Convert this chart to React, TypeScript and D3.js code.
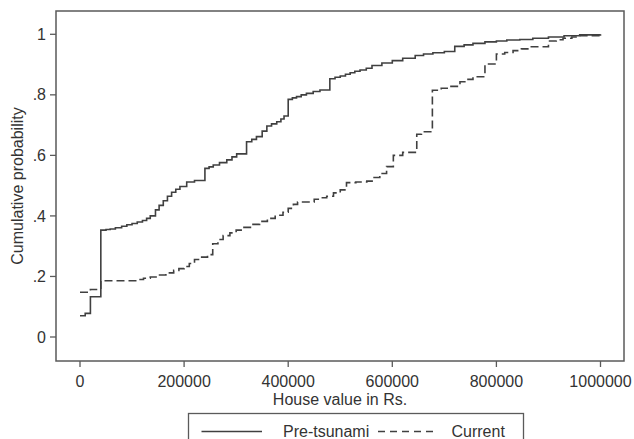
import React from "react";
import * as d3 from "d3";

const preX = [0, 10000, 20000, 40000, 50000, 58000, 68000, 80000, 90000, 100000, 110000, 120000, 128000, 135000, 145000, 152000, 160000, 168000, 176000, 184000, 192000, 205000, 220000, 240000, 248000, 256000, 268000, 282000, 292000, 301000, 320000, 330000, 339000, 350000, 359000, 368000, 378000, 386000, 392000, 400000, 408000, 416000, 425000, 435000, 448000, 461000, 480000, 490000, 500000, 510000, 519000, 528000, 538000, 550000, 561000, 580000, 600000, 620000, 644000, 660000, 678000, 700000, 720000, 738000, 755000, 778000, 800000, 820000, 845000, 870000, 900000, 930000, 960000, 1000000];
const preY = [0.070, 0.078, 0.133, 0.353, 0.355, 0.357, 0.361, 0.366, 0.371, 0.375, 0.380, 0.385, 0.392, 0.400, 0.420, 0.435, 0.450, 0.465, 0.478, 0.488, 0.497, 0.512, 0.517, 0.557, 0.562, 0.568, 0.576, 0.585, 0.595, 0.605, 0.645, 0.653, 0.662, 0.680, 0.697, 0.704, 0.711, 0.720, 0.730, 0.785, 0.790, 0.794, 0.800, 0.805, 0.811, 0.816, 0.853, 0.858, 0.862, 0.868, 0.873, 0.878, 0.882, 0.888, 0.897, 0.905, 0.913, 0.921, 0.930, 0.935, 0.939, 0.943, 0.960, 0.965, 0.970, 0.975, 0.978, 0.981, 0.983, 0.987, 0.991, 0.995, 0.998, 1.0];

const curX = [0, 20000, 40000, 110000, 122000, 135000, 150000, 165000, 180000, 190000, 200000, 210000, 220000, 232000, 245000, 255000, 265000, 275000, 288000, 300000, 315000, 330000, 345000, 360000, 375000, 390000, 400000, 410000, 418000, 450000, 462000, 474000, 487000, 500000, 512000, 530000, 551000, 565000, 576000, 589000, 602000, 620000, 647000, 656000, 677000, 694000, 711000, 730000, 742000, 755000, 778000, 800000, 816000, 832000, 848000, 864000, 900000, 915000, 928000, 945000, 960000, 1000000];
const curY = [0.148, 0.157, 0.186, 0.190, 0.194, 0.198, 0.205, 0.212, 0.220, 0.226, 0.233, 0.243, 0.256, 0.264, 0.272, 0.308, 0.322, 0.335, 0.344, 0.353, 0.362, 0.372, 0.382, 0.392, 0.402, 0.412, 0.425, 0.438, 0.446, 0.455, 0.460, 0.465, 0.476, 0.486, 0.510, 0.512, 0.515, 0.527, 0.540, 0.563, 0.600, 0.610, 0.670, 0.678, 0.815, 0.822, 0.828, 0.843, 0.851, 0.860, 0.902, 0.935, 0.940, 0.946, 0.952, 0.959, 0.978, 0.982, 0.987, 0.991, 0.995, 1.0];

const xTicks = [0, 200000, 400000, 600000, 800000, 1000000];
const yTicks = [0, 0.2, 0.4, 0.6, 0.8, 1];
const yTickLabels = ["0", ".2", ".4", ".6", ".8", "1"];
const seriesNames = ["Pre-tsunami", "Current"];

const W = 634;
const H = 439;
const plot = { left: 56, top: 11, right: 624, bottom: 361 };

export default function App() {
  const x = d3.scaleLinear().domain([0, 1000000]).range([80, 600.5]);
  const y = d3.scaleLinear().domain([0, 1]).range([337, 34.3]);
  const line = d3
    .line<[number, number]>()
    .x((d) => x(d[0]))
    .y((d) => y(d[1]))
    .curve(d3.curveStepAfter);
  const preData: [number, number][] = preX.map((v, i) => [v, preY[i]]);
  const curData: [number, number][] = curX.map((v, i) => [v, curY[i]]);
  const font = "'Liberation Sans', Arial, sans-serif";
  const lineColor = "#404040";
  const frameColor = "#5a5a5a";
  const textColor = "#333";

  return (
    <svg
      width={W}
      height={H}
      style={{ position: "absolute", left: 0, top: 0, background: "#fff" }}
      fontFamily={font}
    >
      <rect x={0} y={0} width={W} height={H} fill="#fff" />
      <path d={line(curData) || ""} fill="none" stroke={lineColor} strokeWidth={1.6} strokeDasharray="8,4" />
      <path d={line(preData) || ""} fill="none" stroke={lineColor} strokeWidth={1.6} />
      <rect
        x={plot.left}
        y={plot.top}
        width={plot.right - plot.left}
        height={plot.bottom - plot.top}
        fill="none"
        stroke={frameColor}
        strokeWidth={1.5}
      />
      {yTicks.map((t, i) => (
        <g key={"y" + i}>
          <line x1={plot.left - 6} x2={plot.left} y1={y(t)} y2={y(t)} stroke={frameColor} strokeWidth={1.3} />
          <text x={46} y={y(t)} dy="0.35em" textAnchor="end" fontSize={16} fill={textColor}>
            {yTickLabels[i]}
          </text>
        </g>
      ))}
      {xTicks.map((t, i) => (
        <g key={"x" + i}>
          <line x1={x(t)} x2={x(t)} y1={plot.bottom} y2={plot.bottom + 6} stroke={frameColor} strokeWidth={1.3} />
          <text x={x(t)} y={386.5} textAnchor="middle" fontSize={16} fill={textColor}>
            {d3.format("d")(t)}
          </text>
        </g>
      ))}
      <text x={340} y={405} textAnchor="middle" fontSize={16} fill={textColor}>
        House value in Rs.
      </text>
      <text
        transform={`translate(23,186) rotate(-90)`}
        textAnchor="middle"
        fontSize={16}
        fill={textColor}
      >
        Cumulative probability
      </text>
      <rect x={188.5} y={413.5} width={335} height={40} fill="#fff" stroke={frameColor} strokeWidth={1.3} />
      <line x1={201.5} x2={262} y1={431.5} y2={431.5} stroke={lineColor} strokeWidth={1.5} />
      <text x={283} y={437} fontSize={16} fill={textColor}>
        {seriesNames[0]}
      </text>
      <line x1={378} x2={437} y1={431.5} y2={431.5} stroke={lineColor} strokeWidth={1.5} strokeDasharray="7,5" />
      <text x={451.5} y={437} fontSize={16} fill={textColor}>
        {seriesNames[1]}
      </text>
    </svg>
  );
}
